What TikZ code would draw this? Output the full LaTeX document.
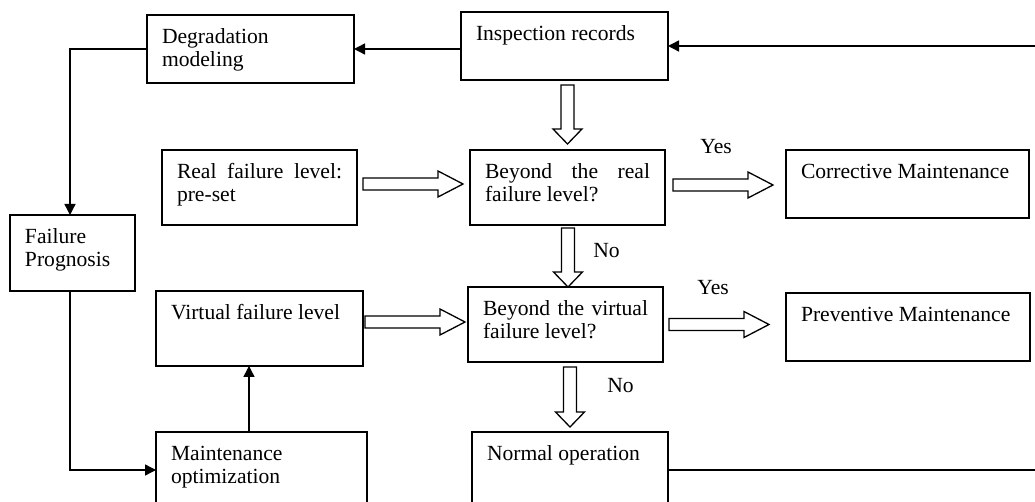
\documentclass[tikz,border=0pt]{standalone}
\usepackage{fontspec}
\setmainfont{Liberation Serif}
\usetikzlibrary{arrows.meta,calc}
\newcommand{\boxtxt}[3]{\parbox[c][\dimexpr#2-12pt\relax][t]{\dimexpr#1-15pt\relax}{\strut#3}}
\newcommand{\hblk}[2]{\draw[blk] let \p1=#1, \p2=#2 in
  (\x1,\y1+3pt) -- (\x2-12.5pt,\y1+3pt) -- (\x2-12.5pt,\y1+6.5pt) -- (\x2,\y1)
  -- (\x2-12.5pt,\y1-6.5pt) -- (\x2-12.5pt,\y1-3pt) -- (\x1,\y1-3pt) -- cycle;}
\newcommand{\vblk}[2]{\draw[blk] let \p1=#1, \p2=#2 in
  (\x2-3.25pt,\y1) -- (\x2-3.25pt,\y2+7.5pt) -- (\x2-7.25pt,\y2+7.5pt) -- (\x2,\y2)
  -- (\x2+7.25pt,\y2+7.5pt) -- (\x2+3.25pt,\y2+7.5pt) -- (\x2+3.25pt,\y1) -- cycle;}
\begin{document}
\begin{tikzpicture}[x=0.5pt,y=-0.5pt,
  every node/.style={font=\fontsize{10.8pt}{11.5pt}\selectfont},
  box/.style={draw, line width=0.75pt, inner xsep=7.5pt, inner ysep=6pt, outer sep=0pt, anchor=north west},
  lbl/.style={inner sep=0pt, anchor=base west},
  arr/.style={line width=0.7pt, -{Triangle[length=5.5pt,width=5.5pt]}},
  blk/.style={draw, line width=0.65pt, fill=white, line join=miter}]
\useasboundingbox (0,0) rectangle (1035,502);
\clip (0,0) rectangle (1035,502);
\fill[white] (0,0) rectangle (1035,502);

% boxes
\node[box] (deg) at (147,15) {\boxtxt{103.5pt}{34pt}{Degradation\\modeling}};
\node[box] (insp) at (461,12) {\boxtxt{103.5pt}{34pt}{Inspection records}};
\node[box] (real) at (162,150) {\boxtxt{97.5pt}{37.5pt}{Real\hfill failure\hfill level:\\pre-set}};
\node[box] (breal) at (470,150) {\boxtxt{97.5pt}{37.5pt}{Beyond\hfill the\hfill real\\failure level?}};
\node[box] (corr) at (786,150) {\boxtxt{121.5pt}{34pt}{Corrective Maintenance}};
\node[box] (fp) at (10,215) {\boxtxt{62.5pt}{38pt}{Failure\\Prognosis}};
\node[box] (virt) at (156,291) {\boxtxt{103.5pt}{37.5pt}{Virtual failure level}};
\node[box] (bvirt) at (468,287) {\boxtxt{97.5pt}{37.5pt}{Beyond\hfill the\hfill virtual\\failure level?}};
\node[box] (prev) at (786,293) {\boxtxt{122pt}{34pt}{Preventive Maintenance}};
\node[box] (mopt) at (156,432) {\boxtxt{105.5pt}{38pt}{Maintenance\\optimization}};
\node[box] (norm) at (472,432) {\boxtxt{98pt}{38pt}{Normal operation}};

% labels
\node[lbl] (yes1) at (700,154) {Yes};
\node[lbl] (yes2) at (697,295) {Yes};
\node[lbl] (no1) at (593,258) {No};
\node[lbl] (no2) at (607,393) {No};

% line connectors
\coordinate (rin) at (1036,46);
\coordinate (rout) at (1036,470);
\draw[arr] (insp.west |- deg.east) -- (deg.east);
\draw[arr] (rin) -- (insp.east);
\draw[line width=0.7pt] (norm.east) -- (rout);
\draw[arr] (deg.west) -| ([xshift=-1.25pt]fp.north);
\draw[arr] ([xshift=-1.25pt]fp.south) |- (mopt.west);
\draw[arr] ([xshift=-6.25pt]mopt.north) -- ([xshift=-6.25pt]mopt.north |- virt.south);

% block arrows
\vblk{([yshift=-2.5pt]insp.south)}{([yshift=3pt]breal.north)}
\vblk{([yshift=-1.5pt]breal.south)}{([xshift=1.25pt]bvirt.north)}
\vblk{([yshift=-2.5pt]bvirt.south)}{([yshift=2.5pt]norm.north)}
\hblk{([xshift=3pt,yshift=1.75pt]real.east)}{([xshift=-3.5pt]breal.west)}
\hblk{([xshift=4pt,yshift=1.25pt]breal.east)}{([xshift=-6.5pt]corr.west)}
\hblk{([xshift=1pt,yshift=3.25pt]virt.east)}{([xshift=-1.5pt]bvirt.west)}
\hblk{([xshift=3pt]bvirt.east)}{([xshift=-8.5pt]prev.west)}
\end{tikzpicture}
\end{document}
